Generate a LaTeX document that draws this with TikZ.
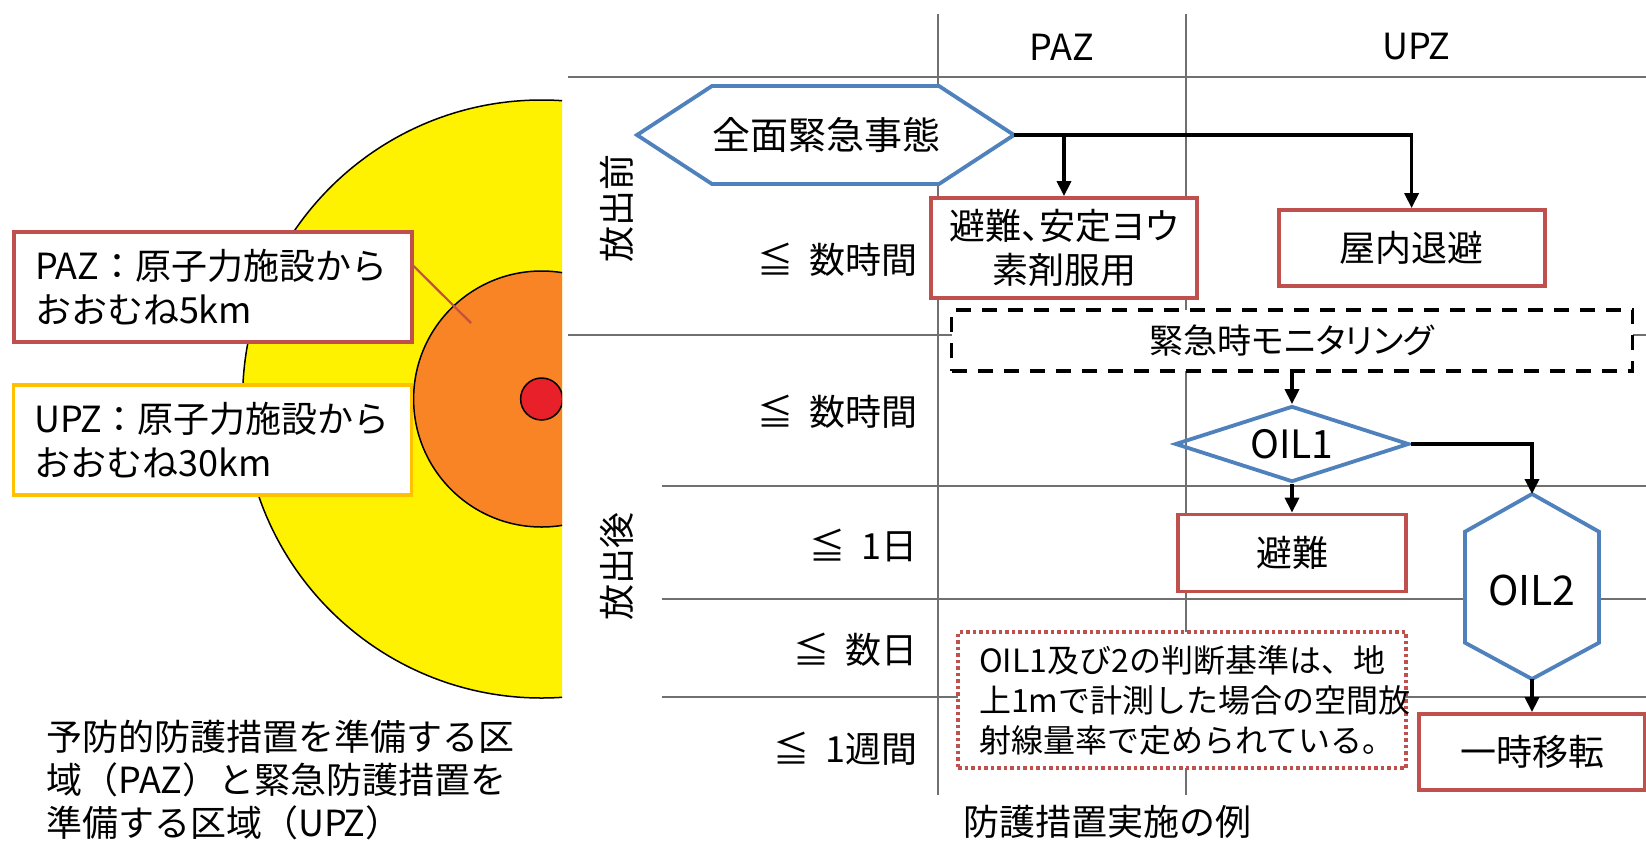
\documentclass[tikz,border=0pt]{standalone}
\usepackage{fontspec}
\setmainfont{Noto Sans CJK JP}
\newfontfamily\propfont{Noto Sans CJK JP}[RawFeature=+palt]
\usetikzlibrary{arrows.meta,shapes.geometric,positioning}
\definecolor{boxred}{HTML}{C0504D}
\definecolor{boxblue}{HTML}{4F81BD}
\definecolor{zonegold}{HTML}{FFC000}
\definecolor{gridgray}{HTML}{707070}
\definecolor{zoneyellow}{HTML}{FFF200}
\definecolor{zoneorange}{HTML}{F98425}
\definecolor{zonered}{HTML}{E8202A}
\newcommand{\connectdown}[2]{%
  \draw[flow] (#1) -| (#2)}
\newcommand{\connectpointer}[2]{%
  \draw[flow] (#1) -- (#2)}
\newcommand{\lesstime}[1]{≦\hspace{0.45em}#1}

\begin{document}
\begin{tikzpicture}[x=1pt, y=-1pt,
    every node/.style={font=\fontsize{36}{44}\selectfont, inner sep=0pt},
    action/.style={draw=boxred, line width=3.8pt, fill=white, align=center},
    decision/.style={draw=boxblue, line width=3.8pt},
    zonebox/.style={line width=3.2pt, fill=white, minimum width=398,
      minimum height=110, text width=356, inner xsep=21pt, align=left},
    gridline/.style={draw=gridgray, line width=2.2pt},
    flow/.style={->, line width=3.5pt},
    >={Triangle[width=14pt,length=15pt]}]
  \useasboundingbox (0,0) rectangle (1646,841);

  \begin{scope}
    \clip (0,0) rectangle (562,841);
    \filldraw[fill=zoneyellow, line width=1.5pt] (541.6,399) circle[radius=299];
    \filldraw[fill=zoneorange, line width=1.5pt] (541.6,399) circle[radius=128];
    \filldraw[fill=zonered, line width=1.5pt] (541.6,399) circle[radius=21];
  \end{scope}

  \draw[gridline] (568,77) -- (1646,77);
  \draw[gridline] (568,335) -- (1646,335);
  \foreach \y in {486,599,697}
    \draw[gridline] (662,\y) -- (1646,\y);
  \foreach \x in {938,1186}
    \draw[gridline] (\x,14) -- (\x,795);

  \node[zonebox, draw=boxred] (paz-box) at (213,287) {PAZ：原子力施設から\\おおむね5km};
  \node[zonebox, draw=zonegold] (upz-box) at (212.5,440) {UPZ：原子力施設から\\おおむね30km};
  \coordinate (paz-zone) at (471,323);
  \draw[draw=boxred, line width=2.2pt] ([yshift=21pt]paz-box.east) -- (paz-zone);
  \node[anchor=west, align=left, font=\fontsize{36}{43}\selectfont] (zones) at (46,780)
    {予防的防護措置を準備する区\\域（PAZ）と緊急防護措置を\\準備する区域（UPZ）};

  \node (paz-head) at (1062,47) {PAZ};
  \node (upz-head) at (1416,47) {UPZ};
  \node[rotate=90] (before) at (617,208) {放出前};
  \node[rotate=90] (after) at (617,566) {放出後};
  \node[anchor=east] (pre-hours) at (918,260) {\lesstime{数時間}};
  \node[anchor=east] (post-hours) at (918,412) {\lesstime{数時間}};
  \node[anchor=east] (post-day) at (918,546) {\lesstime{1日}};
  \node[anchor=east] (post-days) at (918,650) {\lesstime{数日}};
  \node[anchor=east] (post-week) at (918,749) {\lesstime{1週間}};
  \node (example) at (1107,822) {防護措置実施の例};

  \draw[decision, fill=white] (637,135) -- (712,86) -- (939,86) -- (1014,135)
    -- (939,184) -- (712,184) -- cycle;
  \node[font=\fontsize{38}{44}\selectfont] (emergency) at (826,135) {全面緊急事態};
  \coordinate (emergency-e) at (1014,135);

  \node[action, minimum width=266, minimum height=100,
    font=\propfont\fontsize{36}{44}\selectfont] (iodine) at (1064,248)
    {避難、安定ヨウ\\素剤服用};
  \node[action, minimum width=266, minimum height=76] (shelter) at (1411.6,248) {屋内退避};
  \connectdown{emergency-e}{iodine};
  \connectdown{emergency-e}{shelter};

  \node[draw, line width=3.8pt, dash pattern=on 15pt off 11pt, fill=white,
    minimum width=681, minimum height=61, font=\propfont\fontsize{34}{44}\selectfont]
    (monitor) at (1292,340.5) {緊急時モニタリング};
  \node[decision, diamond, shape aspect=3, minimum width=234, minimum height=76,
    font=\fontsize{39}{44}\selectfont] (oil1) at (1292,444) {OIL1};
  \node[action, minimum width=228, minimum height=77] (evac) at (1292,553) {避難};
  \connectpointer{monitor}{oil1};
  \connectpointer{oil1}{evac};

  \draw[decision, fill=white] (1532,494) -- (1599,531.7) -- (1599,642.7) -- (1532,679)
    -- (1465,642.7) -- (1465,531.7) -- cycle;
  \node[font=\fontsize{41}{44}\selectfont] (oil2) at (1532,590) {OIL2};
  \coordinate (oil2-n) at (1532,494);
  \coordinate (oil2-s) at (1532,679);
  \node[action, minimum width=226, minimum height=76] (relocate) at (1532,752) {一時移転};
  \connectdown{oil1.east}{oil2-n};
  \connectpointer{oil2-s}{relocate};

  \node[draw=boxred, line width=3.5pt, dash pattern=on 3.5pt off 3pt, fill=white,
    minimum width=448, minimum height=136, text width=406, inner xsep=21pt,
    align=left, font=\fontsize{32}{40}\selectfont] (criteria) at (1182,700)
    {OIL1及び2の判断基準は、地\\上1mで計測した場合の空間放\\射線量率で定められている。};
\end{tikzpicture}
\end{document}
